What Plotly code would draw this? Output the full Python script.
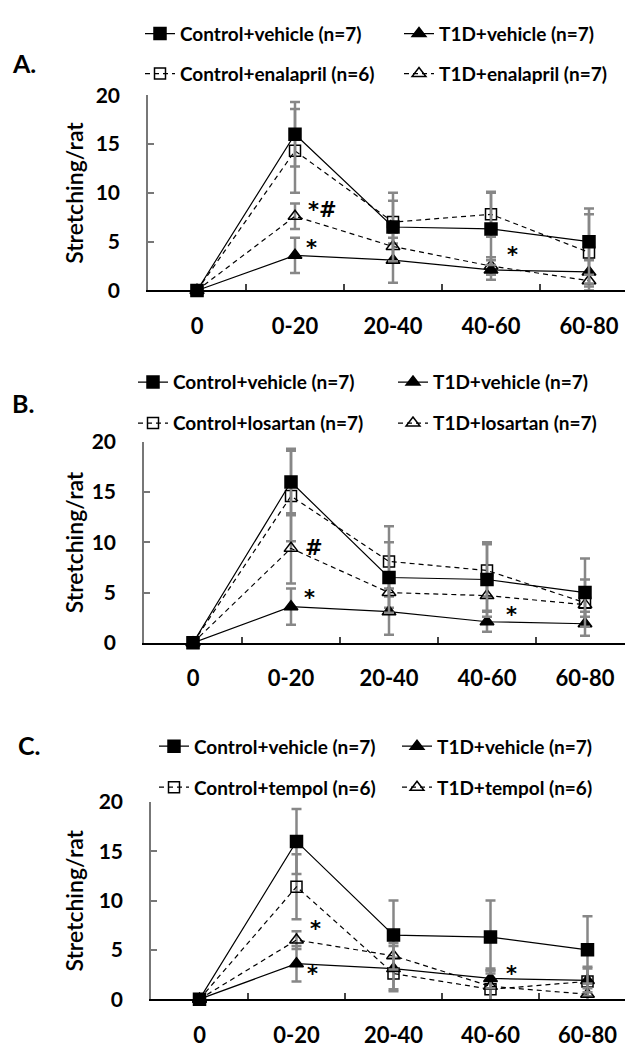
import plotly.graph_objects as go

W, H = 633, 1050

categories = ["0", "0-20", "20-40", "40-60", "60-80"]

ctrl_vehicle = [0, 16.0, 6.5, 6.3, 5.0]
ctrl_vehicle_err = [0, 3.3, 3.5, 3.7, 3.4]
t1d_vehicle = [0, 3.6, 3.1, 2.1, 1.9]
t1d_vehicle_err = [0, 1.8, 2.3, 1.0, 1.2]

ctrl_enalapril = [0, 14.3, 7.0, 7.8, 3.9]
ctrl_enalapril_err = [0, 4.3, 2.2, 2.3, 3.9]
t1d_enalapril = [0, 7.6, 4.5, 2.5, 1.0]
t1d_enalapril_err = [0, 1.3, 1.4, 0.9, 0.6]

ctrl_losartan = [0, 14.6, 8.1, 7.2, 4.0]
ctrl_losartan_err = [0, 4.5, 3.5, 2.6, 2.3]
t1d_losartan = [0, 9.4, 5.0, 4.7, 3.8]
t1d_losartan_err = [0, 3.5, 1.5, 1.5, 1.2]

ctrl_tempol = [0, 11.4, 2.6, 1.0, 1.8]
ctrl_tempol_err = [0, 3.3, 1.6, 1.9, 1.5]
t1d_tempol = [0, 6.0, 4.4, 1.3, 0.5]
t1d_tempol_err = [0, 0.9, 1.3, 1.6, 0.6]

y_ticks = [0, 5, 10, 15, 20]

panels = [
    dict(label="A.", drug="enalapril", n_ctrl=6, n_t1d=7,
         ctrl=ctrl_enalapril, ctrl_err=ctrl_enalapril_err,
         t1d=t1d_enalapril, t1d_err=t1d_enalapril_err,
         notes=[("*#", 1.28, 8.2), ("*", 1.17, 4.4), ("*", 3.22, 3.6)]),
    dict(label="B.", drug="losartan", n_ctrl=7, n_t1d=7,
         ctrl=ctrl_losartan, ctrl_err=ctrl_losartan_err,
         t1d=t1d_losartan, t1d_err=t1d_losartan_err,
         notes=[("#", 1.23, 9.4), ("*", 1.19, 4.5), ("*", 3.25, 2.8)]),
    dict(label="C.", drug="tempol", n_ctrl=6, n_t1d=6,
         ctrl=ctrl_tempol, ctrl_err=ctrl_tempol_err,
         t1d=t1d_tempol, t1d_err=t1d_tempol_err,
         notes=[("*", 1.2, 7.1), ("*", 1.17, 2.6), ("*", 3.22, 2.6)]),
]

# layout geometry in pixels
geo = [
    dict(x0=140, x1=630, y0=275, y20=75, lab=(2, 42),
         leg_rows=(12, 53), leg_cols=(152, 411)),
    dict(x0=136, x1=626, y0=636, y20=430, lab=(2, 390),
         leg_rows=(369, 411), leg_cols=(145, 405)),
    dict(x0=143, x1=628, y0=1001, y20=799, lab=(8, 741),
         leg_rows=(742, 784), leg_cols=(166, 409)),
]

FONT = "Lato"
ERR_COLOR = "rgb(135,135,135)"

fig = go.Figure()
annotations = []
layout = dict(width=W, height=H, margin=dict(l=0, r=0, t=0, b=0),
              paper_bgcolor="white", plot_bgcolor="white", showlegend=True)

for i, (p, g) in enumerate(zip(panels, geo)):
    k = i + 1
    xa = "x" if k == 1 else f"x{k}"
    ya = "y" if k == 1 else f"y{k}"
    series = [
        (f"Control+{p['drug']} (n={p['n_ctrl']})", p["ctrl"], p["ctrl_err"], "square-open", "5px,4px", 11, 2),
        (f"T1D+{p['drug']} (n={p['n_t1d']})", p["t1d"], p["t1d_err"], "triangle-up-open", "5px,4px", 12, 3),
        ("T1D+vehicle (n=7)", t1d_vehicle, t1d_vehicle_err, "triangle-up", "solid", 12, 1),
        ("Control+vehicle (n=7)", ctrl_vehicle, ctrl_vehicle_err, "square", "solid", 12, 0),
    ]
    for name, vals, errs, sym, dash, msize, slot in series:
        lname = "legend" if (i == 0 and slot == 0) else f"legend{i * 4 + slot + 1}"
        fig.add_trace(go.Scatter(
            x=categories, y=vals, name=name, mode="lines+markers",
            xaxis=xa, yaxis=ya, legend=lname, cliponaxis=False,
            line=dict(color="black", width=1.2, dash=dash),
            marker=dict(symbol=sym, size=msize, color="black",
                        line=dict(color="black", width=1.5)),
            error_y=dict(type="data", array=errs, visible=True,
                         color=ERR_COLOR, thickness=2.5, width=5),
        ))
        row = slot // 2
        col = slot % 2
        cx = g["leg_cols"][col]
        cy = g["leg_rows"][row]
        layout[lname] = dict(
            x=(cx - 20) / W, xanchor="left", y=1 - cy / H, yanchor="middle",
            orientation="h", bgcolor="rgba(0,0,0,0)", borderwidth=0,
            font=dict(family=FONT, size=19, color="black", weight="bold"),
        )
    xkey = "xaxis" if k == 1 else f"xaxis{k}"
    ykey = "yaxis" if k == 1 else f"yaxis{k}"
    layout[xkey] = dict(
        type="category", categoryorder="array", categoryarray=categories,
        range=[-0.5, 4.5], domain=[g["x0"] / W, g["x1"] / W], anchor=ya,
        showline=True, linecolor="black", linewidth=2,
        ticks="inside", tickson="boundaries", ticklen=6, tickwidth=2, tickcolor="#444",
        tickfont=dict(family=FONT, size=22, color="black", weight="bold"),
        ticklabelstandoff=15, showgrid=False, zeroline=False, fixedrange=True,
    )
    layout[ykey] = dict(
        range=[0, 20], domain=[1 - g["y0"] / H, 1 - g["y20"] / H], anchor=xa,
        tickvals=y_ticks, ticktext=[str(v) for v in y_ticks],
        showline=True, linecolor="#777", linewidth=1.5,
        ticks="inside", ticklen=6, tickwidth=1.5, tickcolor="#777",
        tickfont=dict(family=FONT, size=21, color="black", weight="bold"),
        ticklabelstandoff=22, showgrid=False, zeroline=False, fixedrange=True,
    )
    annotations.append(dict(
        text="Stretching/rat", textangle=-90, xref="paper", yref="paper",
        x=66 / W, y=1 - (g["y0"] + g["y20"]) / 2 / H, xanchor="center", yanchor="middle",
        showarrow=False, font=dict(family=FONT, size=23, color="black", weight=600),
    ))
    annotations.append(dict(
        text=p["label"], xref="paper", yref="paper",
        x=g["lab"][0] / W, y=1 - g["lab"][1] / H, xanchor="left", yanchor="middle",
        showarrow=False, font=dict(family=FONT, size=25, color="black", weight="bold"),
    ))
    for txt, xv, yv in p["notes"]:
        annotations.append(dict(
            text=txt, xref=xa, yref=ya, x=xv, y=yv, showarrow=False,
            xanchor="center", yanchor="middle",
            font=dict(family="DejaVu Sans", size=21, color="black", weight="bold"),
        ))

layout["annotations"] = annotations
fig.update_layout(**layout)
fig.write_html("out.html")
